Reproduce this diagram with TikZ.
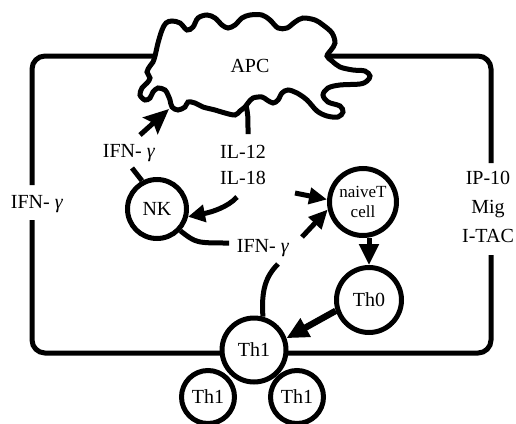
\documentclass[tikz,border=0pt]{standalone}
\usepackage{fontspec}
\setmainfont{Liberation Serif}
\usetikzlibrary{arrows.meta}
\pgfdeclarelayer{bg}
\pgfsetlayers{bg,main}

\begin{document}
\begin{tikzpicture}[x=1pt,y=-1pt,
  cell/.style={circle,draw,line width=5pt,fill=white,inner sep=0pt,
    font=\fontsize{20}{24}\selectfont},
  lbl/.style={inner sep=0pt,anchor=base,font=\fontsize{20}{24}\selectfont},
  wire/.style={line width=5pt},
  arr/.style={line width=5pt,-{Triangle[length=21pt,width=19pt]}},
  loop/.style={line width=5pt,rounded corners=13pt}]
\useasboundingbox (0,0) rectangle (516,423);

% the antigen presenting cell
\draw[line width=5pt,fill=white] plot[smooth cycle,tension=0.55] coordinates {
 (155,56) (158,43) (162,30) (166,23) (172,21) (180,23) (187,30) (193,27)
 (198,18) (207,15) (215,18) (222,25) (228,28) (235,25) (242,18) (250,15)
 (262,15) (270,20) (278,28) (287,28) (295,22) (303,18) (315,20) (323,25)
 (332,33) (335,43) (331,50) (327,56) (332,61) (340,67) (353,70) (365,71)
 (370,76) (367,81) (360,84) (340,85) (328,88) (323,95) (328,102) (340,106)
 (343,112) (338,117) (327,116) (317,111) (307,100) (297,93) (288,90)
 (282,93) (278,100) (273,103) (267,100) (262,97) (253,98) (248,103)
 (245,107) (240,111) (235,115) (225,113) (215,110) (203,107) (195,103)
 (188,102) (185,107) (178,110) (172,107) (170,100) (168,95) (165,90)
 (158,88) (153,92) (150,98) (145,100) (140,95) (142,88) (147,83) (150,78)
 (147,72) (150,66) (153,62)};

% cells
\node[cell,minimum size=59pt] (nk) at (157,209) {NK};
\node[cell,minimum size=67pt,align=center,
      font=\fontsize{17}{19.5}\selectfont] (naive) at (363,202) {naiveT\\cell};
\node[cell,minimum size=65pt] (th0) at (369,300) {Th0};
\node[cell,minimum size=64pt] (th1) at (254,350) {Th1};
\node[cell,minimum size=53pt] (th1a) at (208,397) {Th1};
\node[cell,minimum size=53pt] (th1b) at (297,397) {Th1};

% labels
\node[lbl] (apc) at (250,72) {APC};
\node[lbl] (ifnU) at (129,157) {IFN- \textit{γ}};
\node[lbl] (il12) at (243,158) {IL-12};
\node[lbl] (il18) at (243,184) {IL-18};
\node[lbl] (ifnD) at (263,252) {IFN- \textit{γ}};
\node[lbl] (ifnL) at (37,208) {IFN- \textit{γ}};
\node[lbl] (ip10) at (488,184) {IP-10};
\node[lbl] (mig) at (488,213) {Mig};
\node[lbl] (itac) at (488,242) {I-TAC};

% ends of the chemokine / IFN loop
\coordinate (apcL) at (155,56);
\coordinate (apcR) at (327,56);
\coordinate (lUp) at (32,185);
\coordinate (lLo) at (32,220);
\coordinate (rUp) at (491,163);
\coordinate (rLo) at (491,255);
\begin{pgfonlayer}{bg}
  \draw[loop] (apcL) -- (32,56) -- (lUp);
  \draw[loop] (lLo) -- (32,353) -- (491,353) -- (rLo);
  \draw[loop] (rUp) -- (491,56) -- (apcR);
\end{pgfonlayer}

% free ends of the signalling lines
\coordinate (apcIn) at (169,109);
\coordinate (ifnUtop) at (140,135);
\coordinate (apcTail) at (246,105);
\coordinate (ilTop) at (248,134);
\coordinate (ifnUbot) at (132,168);
\coordinate (ilBot) at (237,197);
\coordinate (ifnDl) at (229,243);
\coordinate (ilR) at (295,193);
\coordinate (ifnDr) at (302,237);
\coordinate (ifnDb) at (278,264);

\draw[line width=5pt,-{Stealth[length=25pt,width=22pt,inset=4pt]}]
  (ifnUtop) -- (apcIn);
\draw[wire] (apcTail) .. controls (248,115) .. (ilTop);
\draw[wire] (ifnUbot) -- (nk.118);
\draw[line width=5pt,-{Triangle[length=17pt,width=17pt]}]
  (ilBot) .. controls (228,207) and (212,212) .. (nk.-14);
\draw[wire] (nk.-43) .. controls (196,243) .. (ifnDl);
\draw[line width=5pt,-{Triangle[length=18pt,width=16pt]}] (ilR) -- (naive.176);
\draw[line width=5pt,-{Triangle[length=19pt,width=17pt]}] (ifnDr) -- (naive.192);
\draw[wire] (th1.75) .. controls (261,290) and (266,276) .. (ifnDb);
\draw[arr] (th0.north |- naive.south) -- (th0.north);
\draw[line width=6.5pt,-{Triangle[length=22pt,width=20pt]}] (th0.198) -- (th1.20);
\end{tikzpicture}
\end{document}
